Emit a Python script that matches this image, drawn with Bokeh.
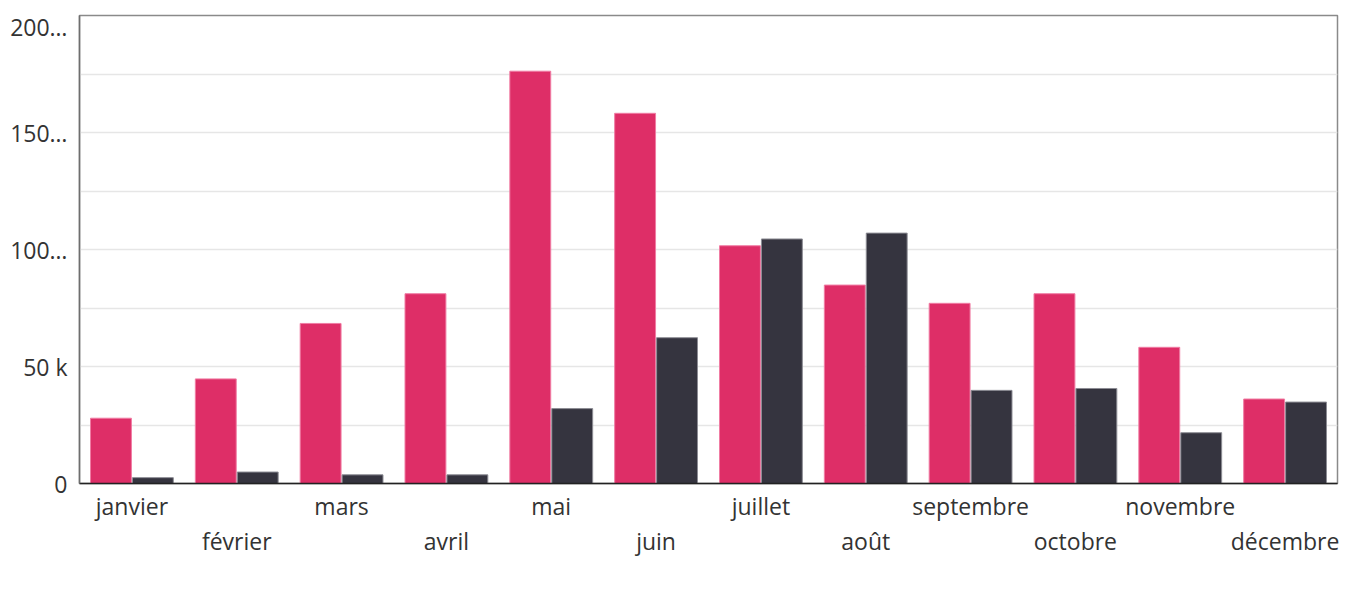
from bokeh.plotting import figure
from bokeh.models import (ColumnDataSource, FixedTicker, LinearAxis, Legend, LegendItem, Range1d)
from bokeh.embed import file_html
from bokeh.resources import INLINE

months = ["janvier", "février", "mars", "avril", "mai", "juin", "juillet",
          "août", "septembre", "octobre", "novembre", "décembre"]
hebergements = [27900, 44700, 68400, 81100, 176200, 158200, 101600,
                84800, 77000, 81100, 58200, 36100]
billetterie = [2500, 4900, 3700, 3700, 32000, 62300, 104500,
               107000, 39800, 40600, 21700, 34800]
series_names = ["Hébergements", "Billetterie"]
y_ticks = [0, 50000, 100000, 150000, 200000]
y_labels = ["0", "50 k", "100…", "150…", "200…"]
y_minor = [25000, 75000, 125000, 175000]

PINK = "#DE2E67"
DARK = "#35343F"
FONT = "Open Sans"
TXT = "#333333"

idx = list(range(len(months)))
src = ColumnDataSource(dict(
    x1=[i - 0.2 for i in idx], x2=[i + 0.2 for i in idx],
    h=hebergements, b=billetterie))

p = figure(frame_width=1258, frame_height=468, output_backend="svg", toolbar_location=None,
           x_range=Range1d(-0.5, 11.5), y_range=Range1d(0, 200000),
           x_axis_location=None, margin=(10, 0, 0, 7))
p.outline_line_color = "#8a8a8a"
p.outline_line_width = 1.5

r1 = p.vbar(x="x1", top="h", width=0.39, source=src, fill_color=PINK,
            line_color="#f07ca3", line_width=1)
r2 = p.vbar(x="x2", top="b", width=0.39, source=src, fill_color=DARK,
            line_color="#8c8c94", line_width=1)

# y axis
ya = p.yaxis[0]
ya.ticker = FixedTicker(ticks=y_ticks, minor_ticks=y_minor)
ya.major_label_overrides = {t: l for t, l in zip(y_ticks, y_labels)}
ya.major_tick_line_color = None
ya.minor_tick_line_color = None
ya.axis_line_color = "#6e6e6e"
ya.axis_line_width = 1.5
ya.major_label_text_font = FONT
ya.major_label_text_font_size = "23px"
ya.major_label_text_color = TXT
ya.major_label_standoff = 6

p.xgrid.grid_line_color = None
p.ygrid.grid_line_color = "#e6e6e6"
p.ygrid.minor_grid_line_color = "#e6e6e6"
p.ygrid.grid_line_width = 1.5
p.ygrid.minor_grid_line_width = 1.5

# staggered x labels: two axes
odd = idx[0::2]
even = idx[1::2]
ax1 = LinearAxis(ticker=FixedTicker(ticks=odd),
                 major_label_overrides={i: months[i] for i in odd})
ax2 = LinearAxis(ticker=FixedTicker(ticks=even),
                 major_label_overrides={i: months[i] for i in even})
for ax in (ax1, ax2):
    ax.major_tick_line_color = None
    ax.minor_tick_line_color = None
    ax.major_label_text_font = FONT
    ax.major_label_text_font_size = "23px"
    ax.major_label_text_color = TXT
ax1.axis_line_color = "#222222"
ax1.axis_line_width = 1.5
ax1.major_label_standoff = 0
ax2.axis_line_color = None
ax2.major_label_standoff = -6
p.add_layout(ax1, "below")
p.add_layout(ax2, "below")

legend = Legend(items=[LegendItem(label=series_names[0], renderers=[r1]),
                       LegendItem(label=series_names[1], renderers=[r2])],
                orientation="horizontal", location="center",
                glyph_width=52, glyph_height=26, spacing=40, label_standoff=10,
                label_text_font=FONT, label_text_font_size="23px", label_text_color=TXT,
                border_line_color=None, background_fill_alpha=0,
                padding=0, margin=0)
p.add_layout(legend, "below")

open("out.html", "w").write(file_html(p, INLINE))
